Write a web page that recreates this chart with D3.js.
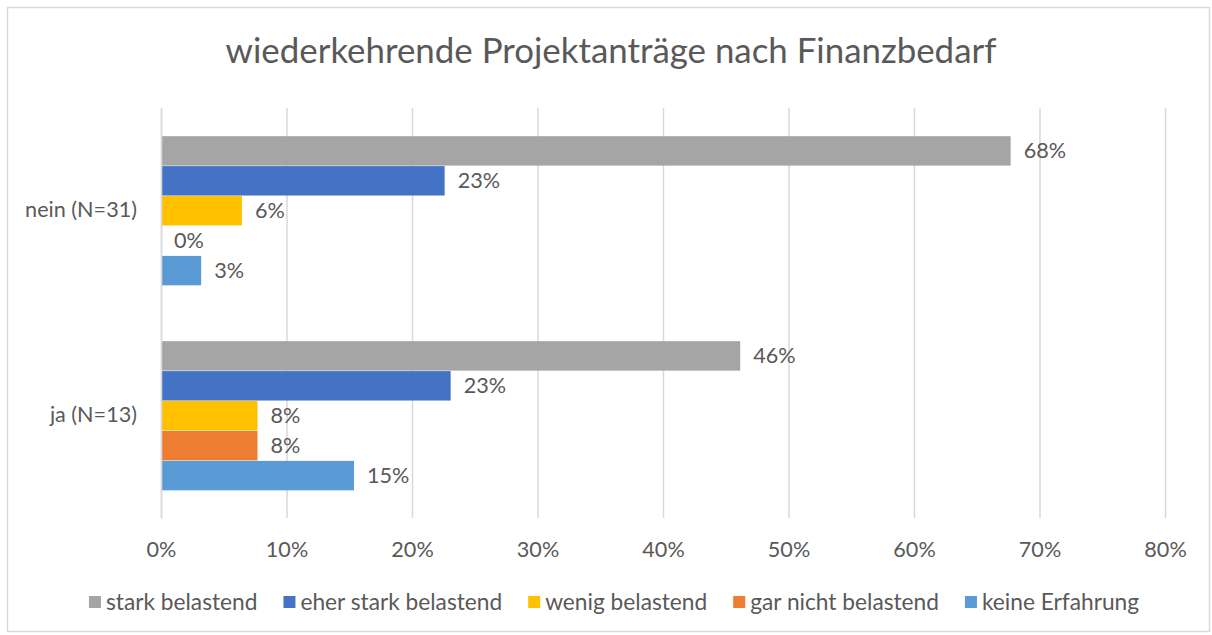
<!DOCTYPE html>
<html><head><meta charset="utf-8">
<script src="https://cdn.jsdelivr.net/npm/d3@7"></script>
<style>body{margin:0;background:#fff;}svg text{font-family:"Lato",sans-serif;fill:#595959;}</style>
</head><body><svg id="c" width="1212" height="635"></svg>
<script>
const title = "wiederkehrende Projektanträge nach Finanzbedarf";
const categories = ["nein (N=31)", "ja (N=13)"];
const seriesNames = ["stark belastend", "eher stark belastend", "wenig belastend", "gar nicht belastend", "keine Erfahrung"];
const seriesColors = ["#A5A5A5", "#4472C4", "#FFC000", "#ED7D31", "#5B9BD5"];
const valuesNein = [0.677, 0.226, 0.0645, 0.0, 0.032];
const valuesJa = [0.4615, 0.2308, 0.0769, 0.0769, 0.1538];
const xTicks = [0, 0.1, 0.2, 0.3, 0.4, 0.5, 0.6, 0.7, 0.8];

const data = [valuesNein, valuesJa];
const svg = d3.select("#c");
svg.append("rect").attr("x",7.5).attr("y",7.5).attr("width",1202).attr("height",624)
  .attr("fill","#fff").attr("stroke","#D9D9D9").attr("stroke-width",1.5);

// measure font scale for small text
const probe = svg.append("text").attr("font-size",20).text("nein (N=31)");
const fs = 20*112/probe.node().getComputedTextLength();
probe.remove();

const x = d3.scaleLinear().domain([0,0.8]).range([161,1165]);
const y0 = d3.scaleBand().domain(categories).range([108,518]).paddingInner(0.27).paddingOuter(0.135);
const y1 = d3.scaleBand().domain(seriesNames.map((d,i)=>i)).range([0,y0.bandwidth()]);

// title
const t = svg.append("text").attr("x",611).attr("y",63).attr("text-anchor","middle")
  .attr("font-size",30).text(title);
const tw = t.node().getComputedTextLength();
t.attr("font-size", 30*771/tw);

// grid
const gx = svg.append("g").attr("transform","translate(0,518)")
  .call(d3.axisBottom(x).tickValues(xTicks).tickSize(-410).tickFormat(d3.format(".0%")));
gx.select(".domain").remove();
gx.selectAll(".tick line").attr("stroke","#D9D9D9").attr("stroke-width",1.5);
gx.selectAll(".tick text").attr("font-size",fs).attr("dy","0.35em").attr("y",31).attr("fill","#595959").attr("font-family","Lato");

// bars
categories.forEach((c,ci)=>{
  const g = svg.append("g");
  data[ci].forEach((v,si)=>{
    const yy = y0(c)+y1(si);
    g.append("rect").attr("x",x(0)).attr("y",yy+0.5).attr("width",x(v)-x(0)).attr("height",y1.bandwidth()-0.5)
      .attr("fill",seriesColors[si]);
    g.append("text").attr("x",x(v)+13).attr("y",yy+y1.bandwidth()/2).attr("dy","0.35em")
      .attr("font-size",fs).text(d3.format(".0%")(v));
  });
});

// category labels
const gy = svg.append("g").attr("transform","translate(161,0)")
  .call(d3.axisLeft(y0).tickSize(0).tickPadding(24));
gy.select(".domain").attr("stroke","#D9D9D9").attr("stroke-width",1.5);
gy.selectAll(".tick text").attr("font-size",fs).attr("fill","#595959").attr("font-family","Lato");

// legend
const lg = svg.append("g");
let cx = 0;
const gap = 26;
seriesNames.forEach((n,i)=>{
  const it = lg.append("g");
  it.append("rect").attr("x",0).attr("y",-6).attr("width",12).attr("height",12).attr("fill",seriesColors[i]);
  const tx = it.append("text").attr("x",17).attr("y",0).attr("dy","0.35em").attr("font-size",fs*1.05).text(n);
  const w = 17 + tx.node().getComputedTextLength();
  it.attr("transform",`translate(${cx},602)`);
  cx += w + gap;
});
const total = cx - gap;
lg.attr("transform",`translate(${614-total/2},0)`);
</script></body></html>
